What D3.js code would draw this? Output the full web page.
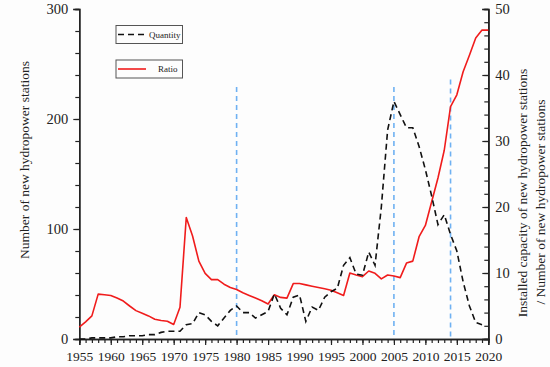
<!DOCTYPE html>
<html>
<head>
<meta charset="utf-8">
<script src="https://cdn.jsdelivr.net/npm/d3@7"></script>
<style>
  html, body { margin: 0; padding: 0; background: #fdfdfd; }
  svg { display: block; }
  text { font-family: "Liberation Serif", "DejaVu Serif", serif; fill: #222; }
</style>
</head>
<body>
<svg id="chart" width="550" height="367"></svg>
<script>
// ---- data ----
const years = [1955,1956,1957,1958,1959,1960,1961,1962,1963,1964,1965,1966,1967,1968,1969,1970,
  1971,1972,1973,1974,1975,1976,1977,1978,1979,1980,1981,1982,1983,1984,1985,1986,1987,1988,1989,1990,
  1991,1992,1993,1994,1995,1996,1997,1998,1999,2000,2001,2002,2003,2004,2005,2006,2007,2008,2009,2010,
  2011,2012,2013,2014,2015,2016,2017,2018,2019,2020];
const quantity = [0,0,1,1,1,1,2,2,3,3,3,4,4,6,7,7,
  7,13,14,24,22,16,12,19,26,30,24,24,19,22,25,41,28,22,38,40,
  16,29,26,38,43,46,67,74,59,58,79,67,120,190,216,204,192,192,175,154,
  130,104,113,95,80,52,30,15,13,null];
const ratio = [1.8,2.6,3.5,6.8,6.7,6.6,6.2,5.75,5.0,4.3,3.9,3.5,3.0,2.8,2.7,2.2,
  4.8,18.4,15.6,11.8,9.95,9.0,9.0,8.3,7.8,7.5,7.0,6.6,6.2,5.8,5.3,6.7,6.3,6.2,8.4,8.4,
  8.2,8.0,7.8,7.6,7.4,7.0,6.6,10.0,9.7,9.45,10.3,9.95,9.1,9.7,9.55,9.3,11.5,11.8,15.5,17.2,
  20.8,24.4,28.6,35.2,37.0,40.5,43.0,45.6,46.8,46.8];
const markerYears = [1980, 2005, 2014];
const markerTops = [229, 229, 236];   // in left-axis units
const xTicks = [1955,1960,1965,1970,1975,1980,1985,1990,1995,2000,2005,2010,2015,2020];
const yLeftTicks = [0,100,200,300];
const yRightTicks = [0,10,20,30,40,50];
const seriesNames = ["Quantity", "Ratio"];
const leftTitle = "Number of new hydropower stations";
const rightTitle = ["Installed capacity of new hydropower stations", "/ Number of new hydropower stations"];

// ---- layout ----
const svg = d3.select("#chart");
const L = 79.3, R = 488.3, T = 9, B = 339;
const x = d3.scaleLinear().domain([1955, 2020]).range([L, R]);
const yL = d3.scaleLinear().domain([0, 300]).range([B, T]);
const yR = d3.scaleLinear().domain([0, 50]).range([B, T]);
const axisColor = "#222";

// blue markers
svg.append("g").selectAll("line").data(markerYears).join("line")
  .attr("x1", d => x(d)).attr("x2", d => x(d))
  .attr("y1", (d, i) => yL(markerTops[i])).attr("y2", B)
  .attr("stroke", "#6fb1f2").attr("stroke-width", 1.6)
  .attr("stroke-dasharray", "5,4");

// axes
function styleAxis(g) {
  g.selectAll(".domain").attr("stroke", axisColor).attr("stroke-width", 1.4);
  g.selectAll(".tick line").attr("stroke", axisColor).attr("stroke-width", 1.2);
}
// bottom minor
svg.append("g").attr("transform", `translate(0,${B})`)
  .call(d3.axisBottom(x).tickValues(d3.range(1955, 2021, 1)).tickSize(4).tickFormat(""))
  .call(styleAxis);
svg.append("g").attr("transform", `translate(0,${B})`)
  .call(d3.axisBottom(x).tickValues(xTicks).tickSize(6).tickFormat(d3.format("d")).tickPadding(6))
  .call(styleAxis)
  .call(g => g.selectAll("text").attr("font-size", 13.5).attr("fill", "#222")
    .attr("font-family", '"Liberation Serif", serif'));
// left
svg.append("g").attr("transform", `translate(${L},0)`)
  .call(d3.axisLeft(yL).tickValues(d3.range(0, 301, 20)).tickSize(4).tickFormat(""))
  .call(styleAxis);
svg.append("g").attr("transform", `translate(${L},0)`)
  .call(d3.axisLeft(yL).tickValues(yLeftTicks).tickSize(6).tickPadding(5))
  .call(styleAxis)
  .call(g => g.selectAll("text").attr("font-size", 14.5).attr("fill", "#222")
    .attr("font-family", '"Liberation Serif", serif'));
// right (ticks inward)
svg.append("g").attr("transform", `translate(${R},0)`)
  .call(d3.axisLeft(yR).tickValues(d3.range(0, 51, 2)).tickSize(4).tickFormat(""))
  .call(styleAxis);
svg.append("g").attr("transform", `translate(${R},0)`)
  .call(d3.axisRight(yR).tickValues(yRightTicks).tickSize(0).tickPadding(7))
  .call(styleAxis)
  .call(g => g.selectAll("text").attr("font-size", 14.5).attr("fill", "#222")
    .attr("font-family", '"Liberation Serif", serif'));
svg.append("g").attr("transform", `translate(${R},0)`)
  .call(d3.axisLeft(yR).tickValues(yRightTicks).tickSize(6).tickFormat(""))
  .call(styleAxis);

// lines
const idx = d3.range(years.length);
const ratioLine = d3.line().defined(i => ratio[i] != null).x(i => x(years[i])).y(i => yR(ratio[i]));
const qtyLine = d3.line().defined(i => quantity[i] != null).x(i => x(years[i])).y(i => yL(quantity[i]));
svg.append("path").datum(idx).attr("d", ratioLine)
  .attr("fill", "none").attr("stroke", "#f01c1c").attr("stroke-width", 1.6)
  .attr("stroke-linejoin", "round");
svg.append("path").datum(idx).attr("d", qtyLine)
  .attr("fill", "none").attr("stroke", "#111").attr("stroke-width", 1.6)
  .attr("stroke-dasharray", "6,4");

// legend
const leg = svg.append("g");
const boxes = [{y: 25.5, name: seriesNames[0], dash: "6,4", color: "#111", tx: 149},
               {y: 60, name: seriesNames[1], dash: null, color: "#f01c1c", tx: 158}];
boxes.forEach(b => {
  leg.append("rect").attr("x", 116).attr("y", b.y).attr("width", 66.5).attr("height", 18)
    .attr("fill", "#fdfdfd").attr("stroke", "#555").attr("stroke-width", 1);
  leg.append("line").attr("x1", 118).attr("x2", 146).attr("y1", b.y + 9).attr("y2", b.y + 9)
    .attr("stroke", b.color).attr("stroke-width", 1.6)
    .attr("stroke-dasharray", b.dash);
  leg.append("text").attr("x", b.tx).attr("y", b.y + 12).attr("font-size", 9).text(b.name);
});

// titles
svg.append("text").attr("transform", "translate(29,160) rotate(-90)")
  .attr("text-anchor", "middle").attr("font-size", 13.5).text(leftTitle);
svg.append("text").attr("transform", "translate(527,193) rotate(-90)")
  .attr("text-anchor", "middle").attr("font-size", 13.5).text(rightTitle[0]);
svg.append("text").attr("transform", "translate(545,202) rotate(-90)")
  .attr("text-anchor", "middle").attr("font-size", 13.5).text(rightTitle[1]);
</script>
</body>
</html>
